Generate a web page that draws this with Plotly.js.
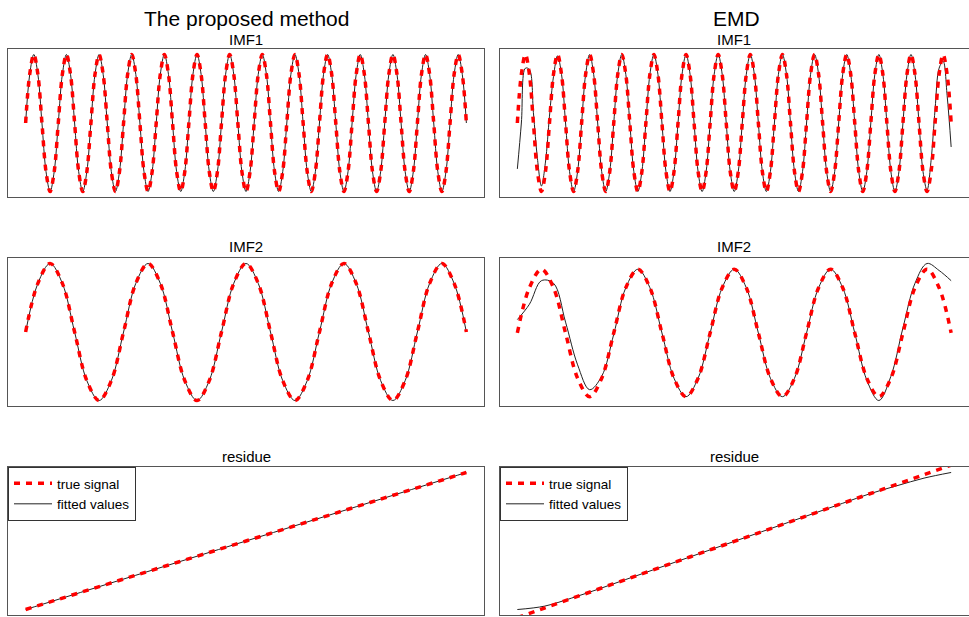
<!DOCTYPE html>
<html>
<head>
<meta charset="utf-8">
<script src="https://cdn.plot.ly/plotly-3.0.1.min.js"></script>
<style>html,body{margin:0;padding:0;background:#fff;}#chart{width:969px;height:617px;}</style>
</head>
<body>
<div id="chart"></div>
<script>
// ---- Data (samples every 1/8 period for the IMFs) ----
const imf1True = [
  0, 0.71, 1, 0.71, 0, -0.71, -1, -0.71,
  0, 0.71, 1, 0.71, 0, -0.71, -1, -0.71,
  0, 0.71, 1, 0.71, 0, -0.71, -1, -0.71,
  0, 0.71, 1, 0.71, 0, -0.71, -1, -0.71,
  0, 0.71, 1, 0.71, 0, -0.71, -1, -0.71,
  0, 0.71, 1, 0.71, 0, -0.71, -1, -0.71,
  0, 0.71, 1, 0.71, 0, -0.71, -1, -0.71,
  0, 0.71, 1, 0.71, 0, -0.71, -1, -0.71,
  0, 0.71, 1, 0.71, 0, -0.71, -1, -0.71,
  0, 0.71, 1, 0.71, 0, -0.71, -1, -0.71,
  0, 0.71, 1, 0.71, 0, -0.71, -1, -0.71,
  0, 0.71, 1, 0.71, 0, -0.71, -1, -0.71,
  0, 0.71, 1, 0.71, 0, -0.71, -1, -0.71,
  0, 0.71, 1, 0.71, 0
];
const propImf1Fit = imf1True.slice(); // coincides with the true signal
const emdImf1Fit = [
  -0.67, 0.0, 0.80, 0.78, 0.15, -0.52, -0.92, -0.57,
  0.10, 0.68, 0.98, 0.71, 0, -0.71, -1, -0.71,
  0, 0.71, 1, 0.71, 0, -0.71, -1, -0.71,
  0, 0.71, 1, 0.71, 0, -0.71, -1, -0.71,
  0, 0.71, 1, 0.71, 0, -0.71, -1, -0.71,
  0, 0.71, 1, 0.71, 0, -0.71, -1, -0.71,
  0, 0.71, 1, 0.71, 0, -0.71, -1, -0.71,
  0, 0.71, 1, 0.71, 0, -0.71, -1, -0.71,
  0, 0.71, 1, 0.71, 0, -0.71, -1, -0.71,
  0, 0.71, 1, 0.71, 0, -0.71, -1, -0.71,
  0, 0.71, 1, 0.71, 0, -0.71, -1, -0.71,
  0, 0.71, 1, 0.71, 0, -0.71, -1, -0.71,
  0, 0.71, 1, 0.71, 0, -0.71, -0.98, -0.55,
  0.2, 0.8, 0.9, 0.4, -0.35
];

const imf2True = [
  0, 0.71, 1, 0.71, 0, -0.71, -1, -0.71,
  0, 0.71, 1, 0.71, 0, -0.71, -1, -0.71,
  0, 0.71, 1, 0.71, 0, -0.71, -1, -0.71,
  0, 0.71, 1, 0.71, 0, -0.71, -1, -0.71,
  0, 0.71, 1, 0.71, 0
];
const propImf2Fit = imf2True.slice();
const emdImf2Fit = [
  0.21, 0.45, 0.82, 0.78, 0.17, -0.50, -0.89, -0.68,
  -0.02, 0.71, 1, 0.71, 0, -0.71, -1, -0.71,
  0, 0.71, 1, 0.71, 0, -0.71, -1, -0.71,
  0, 0.71, 1, 0.71, 0.0, -0.74, -1.06, -0.68,
  0.08, 0.78, 1.09, 0.98, 0.82
];

const residueTrue = [0, 0.0625, 0.125, 0.1875, 0.25, 0.3125, 0.375, 0.4375, 0.5,
  0.5625, 0.625, 0.6875, 0.75, 0.8125, 0.875, 0.9375, 1];
const propResidueFit = residueTrue.slice();
const emdResidueFit = [0.053, 0.075, 0.128, 0.1875, 0.25, 0.3125, 0.375, 0.4375, 0.5,
  0.5625, 0.625, 0.6875, 0.75, 0.8125, 0.865, 0.915, 0.952];

const columnTitles = ["The proposed method", "EMD"];
const panelTitles = ["IMF1", "IMF2", "residue"];
const seriesNames = ["true signal", "fitted values"];

// ---- Layout helpers ----
const W = 969, H = 617;
const colPx = [[8, 484], [500, 968.5]];
const rowPx = [[49, 197], [258, 406], [467, 615]];
const titleY = [39, 246, 457];

const panels = [
  {row: 0, col: 0, tru: imf1True, fit: propImf1Fit},
  {row: 0, col: 1, tru: imf1True, fit: emdImf1Fit},
  {row: 1, col: 0, tru: imf2True, fit: propImf2Fit},
  {row: 1, col: 1, tru: imf2True, fit: emdImf2Fit},
  {row: 2, col: 0, tru: residueTrue, fit: propResidueFit, legend: 'legend'},
  {row: 2, col: 1, tru: residueTrue, fit: emdResidueFit, legend: 'legend2'}
];

function padRange(arr) {
  const mn = Math.min(...arr), mx = Math.max(...arr), p = (mx - mn) * 0.04;
  return [mn - p, mx + p];
}

const traces = [];
const layout = {
  width: W, height: H,
  margin: {l: 0, r: 0, t: 0, b: 0},
  paper_bgcolor: '#fff', plot_bgcolor: '#fff',
  font: {family: 'Liberation Sans, Arial, sans-serif', color: '#000'},
  annotations: [],
  showlegend: true
};

panels.forEach((p, k) => {
  const id = k + 1;
  const xa = 'x' + (id === 1 ? '' : id), ya = 'y' + (id === 1 ? '' : id);
  const xs = p.tru.map((_, i) => i);
  const n = p.tru.length - 1;
  const axisCommon = {showline: true, mirror: true, linecolor: '#555', linewidth: 1,
    showgrid: false, zeroline: false, showticklabels: false, ticks: '', fixedrange: true};
  layout['xaxis' + (id === 1 ? '' : id)] = Object.assign({}, axisCommon, {
    domain: [colPx[p.col][0] / W, colPx[p.col][1] / W],
    range: [-0.04 * n, 1.04 * n], anchor: ya
  });
  layout['yaxis' + (id === 1 ? '' : id)] = Object.assign({}, axisCommon, {
    domain: [1 - rowPx[p.row][1] / H, 1 - rowPx[p.row][0] / H],
    range: padRange(p.fit), anchor: xa
  });
  const showLeg = !!p.legend;
  traces.push({
    x: xs, y: p.fit, xaxis: xa, yaxis: ya, type: 'scatter', mode: 'lines',
    line: {color: '#222', width: 1, shape: 'spline', smoothing: 1},
    name: seriesNames[1], showlegend: showLeg, legend: p.legend || 'legend', legendrank: 2,
    hoverinfo: 'skip'
  });
  traces.push({
    x: xs, y: p.tru, xaxis: xa, yaxis: ya, type: 'scatter', mode: 'lines',
    line: {color: '#ff0000', width: 3.5, dash: '6px,6px', shape: 'spline', smoothing: 1},
    name: seriesNames[0], showlegend: showLeg, legend: p.legend || 'legend', legendrank: 1,
    hoverinfo: 'skip'
  });
  layout.annotations.push({
    text: panelTitles[p.row], xref: 'paper', yref: 'paper',
    x: (colPx[p.col][0] + colPx[p.col][1]) / 2 / W, y: 1 - titleY[p.row] / H,
    xanchor: 'center', yanchor: 'middle', showarrow: false,
    font: {size: 15, color: '#000'}
  });
});

columnTitles.forEach((t, c) => {
  layout.annotations.push({
    text: t, xref: 'paper', yref: 'paper',
    x: (c === 0 ? 246 : 736) / W, y: 1 - 18 / H,
    xanchor: 'center', yanchor: 'middle', showarrow: false,
    font: {size: 21, color: '#000'}
  });
});

const legendCommon = {
  xref: 'paper', yref: 'paper', xanchor: 'left', yanchor: 'top',
  bgcolor: '#fff', bordercolor: '#333', borderwidth: 1, itemwidth: 38,
  font: {size: 13.5, color: '#000'}, traceorder: 'normal', itemclick: false, itemdoubleclick: false
};
layout.legend = Object.assign({}, legendCommon, {x: 8 / W, y: 1 - 467 / H});
layout.legend2 = Object.assign({}, legendCommon, {x: 500 / W, y: 1 - 467 / H});

Plotly.newPlot('chart', traces, layout, {staticPlot: true, displayModeBar: false});
</script>
</body>
</html>
